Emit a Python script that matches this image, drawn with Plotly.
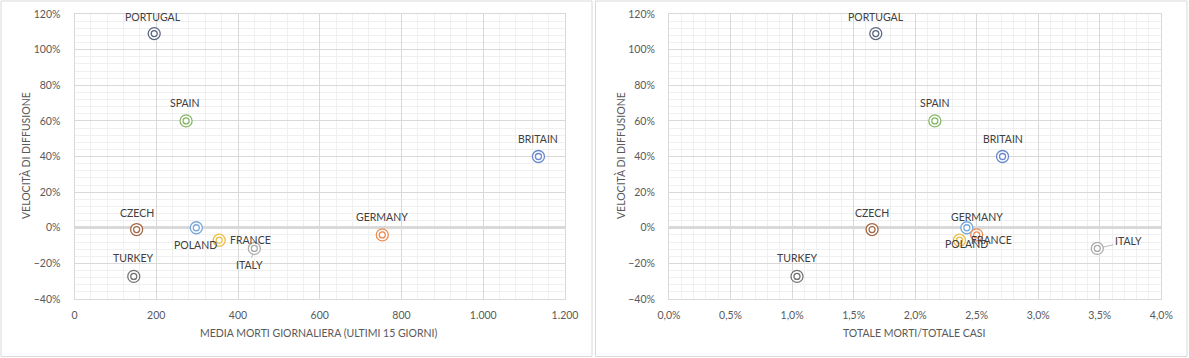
import plotly.graph_objects as go

# ---------------- data ----------------
countries = ["PORTUGAL", "SPAIN", "BRITAIN", "CZECH", "POLAND", "GERMANY", "FRANCE", "ITALY", "TURKEY"]
velocita = [1.09, 0.60, 0.40, -0.01, 0.00, -0.04, -0.07, -0.116, -0.273]
media_morti = [195, 273, 1135, 152, 298, 753, 354, 440, 145]
morti_su_casi = [0.0168, 0.0216, 0.0271, 0.0165, 0.0242, 0.0250, 0.0236, 0.0348, 0.0104]
colors = ["#5A6782", "#86B765", "#6A89CD", "#A66745", "#78A9DA", "#EE8B50", "#EDBE48", "#ABABAB", "#737373"]

left_x_ticks = [0, 200, 400, 600, 800, 1000, 1200]
right_x_ticks = [0, 0.005, 0.01, 0.015, 0.02, 0.025, 0.03, 0.035, 0.04]
y_ticks = [-0.4, -0.2, 0, 0.2, 0.4, 0.6, 0.8, 1.0, 1.2]

# label offsets (pixels) per chart: (dx, dy)  dy positive = up
left_offsets = {"PORTUGAL": (-1, 17), "SPAIN": (-1, 18), "BRITAIN": (0, 18), "CZECH": (0, 17),
                "POLAND": (-1, -17), "GERMANY": (0, 18), "FRANCE": (31, 0), "ITALY": (-5, -17), "TURKEY": (0, 18)}
right_offsets = {"PORTUGAL": (0, 17), "SPAIN": (0, 18), "BRITAIN": (0, 18), "CZECH": (0, 17),
                 "POLAND": (0, -16), "GERMANY": (0, 18), "FRANCE": (32, 0), "ITALY": (31, 7), "TURKEY": (0, 18)}

W, H = 1189, 358
FONT = "Lato"
FS = 10.5
TICK_COLOR = "#595959"
LABEL_COLOR = "#404040"
GRID = "#D9D9D9"
MINOR = "#F0F0F0"

fig = go.Figure()

for xs, xa, ya in [(media_morti, "x", "y"), (morti_su_casi, "x2", "y2")]:
    fig.add_trace(go.Scatter(x=xs, y=velocita, mode="markers", xaxis=xa, yaxis=ya,
                             marker=dict(symbol="circle", size=12, color="white",
                                         line=dict(color=colors, width=1.3)),
                             hoverinfo="skip", showlegend=False))
    fig.add_trace(go.Scatter(x=xs, y=velocita, mode="markers", xaxis=xa, yaxis=ya,
                             marker=dict(symbol="circle", size=6, color="white",
                                         line=dict(color=colors, width=1.3)),
                             hoverinfo="skip", showlegend=False))

annotations = []
for i, c in enumerate(countries):
    for xs, xr, yr, offs in [(media_morti, "x", "y", left_offsets), (morti_su_casi, "x2", "y2", right_offsets)]:
        dx, dy = offs[c]
        if c == "ITALY":
            annotations.append(dict(x=xs[i], y=velocita[i], xref=xr, yref=yr, text=c,
                                    showarrow=True, arrowhead=0, arrowwidth=0.8, arrowcolor="#A6A6A6",
                                    ax=dx, ay=-dy, standoff=6,
                                    font=dict(family=FONT, size=FS, color=LABEL_COLOR)))
        else:
            annotations.append(dict(x=xs[i], y=velocita[i], xref=xr, yref=yr, text=c,
                                    showarrow=False, xshift=dx, yshift=dy,
                                    xanchor="center", yanchor="middle",
                                    font=dict(family=FONT, size=FS, color=LABEL_COLOR)))

# axis titles
title_font = dict(family=FONT, size=FS, color=TICK_COLOR)
annotations += [
    dict(x=319 / W, y=1 - 333 / H, xref="paper", yref="paper", showarrow=False,
         xanchor="center", yanchor="middle",
         text="MEDIA MORTI GIORNALIERA (ULTIMI 15 GIORNI)", font=title_font),
    dict(x=914 / W, y=1 - 333 / H, xref="paper", yref="paper", showarrow=False,
         xanchor="center", yanchor="middle",
         text="TOTALE MORTI/TOTALE CASI", font=title_font),
    dict(x=25 / W, y=1 - 156 / H, xref="paper", yref="paper", showarrow=False, textangle=-90,
         xanchor="center", yanchor="middle",
         text="VELOCITÀ DI DIFFUSIONE", font=title_font),
    dict(x=620 / W, y=1 - 156 / H, xref="paper", yref="paper", showarrow=False, textangle=-90,
         xanchor="center", yanchor="middle",
         text="VELOCITÀ DI DIFFUSIONE", font=title_font),
]

ydom = [1 - 299 / H, 1 - 14 / H]
tickfont = dict(family=FONT, size=FS, color=TICK_COLOR)

yaxis_common = dict(range=[-0.4, 1.2], tickvals=y_ticks, tickformat=".0%", domain=ydom,
                    showgrid=True, gridcolor=GRID, gridwidth=1,
                    minor=dict(dtick=0.04, showgrid=True, gridcolor=MINOR, gridwidth=1),
                    zeroline=True, zerolinecolor=GRID, zerolinewidth=3,
                    showline=True, linecolor=GRID, linewidth=1, mirror=True, automargin=False,
                    ticks="", ticklabelstandoff=11, tickfont=tickfont, fixedrange=True)

fig.update_layout(
    width=W, height=H,
    margin=dict(l=0, r=0, t=0, b=0, pad=0, autoexpand=False),
    paper_bgcolor="white", plot_bgcolor="white",
    separators=",.",
    xaxis=dict(range=[0, 1200], tickvals=left_x_ticks, tickformat=",d", domain=[74.5 / W, 565 / W],
               anchor="y", showgrid=True, gridcolor=GRID, automargin=False,
               minor=dict(dtick=40, showgrid=True, gridcolor=MINOR),
               zeroline=False, showline=True, linecolor=GRID, linewidth=1, mirror=True,
               ticks="", ticklabelstandoff=6, tickfont=tickfont),
    yaxis=dict(anchor="x", **yaxis_common),
    xaxis2=dict(range=[0, 0.04], tickvals=right_x_ticks, tickformat=".1%", domain=[669 / W, 1161.3 / W],
                anchor="y2", showgrid=True, gridcolor=GRID, automargin=False,
                minor=dict(dtick=0.001, showgrid=True, gridcolor=MINOR),
                zeroline=False, showline=True, linecolor=GRID, linewidth=1, mirror=True,
                ticks="", ticklabelstandoff=6, tickfont=tickfont),
    yaxis2=dict(anchor="x2", **yaxis_common),
    annotations=annotations,
    shapes=[
        dict(type="rect", xref="paper", yref="paper", x0=1 / W, x1=592 / W, y0=1 - 356.5 / H, y1=1 - 1 / H,
             line=dict(color=GRID, width=1)),
        dict(type="rect", xref="paper", yref="paper", x0=595.5 / W, x1=1187 / W, y0=1 - 356.5 / H, y1=1 - 1 / H,
             line=dict(color=GRID, width=1)),
    ],
)

fig.write_html("out.html", config={"displayModeBar": False},
               post_script="document.body.style.margin='0';document.body.style.overflow='hidden';")
